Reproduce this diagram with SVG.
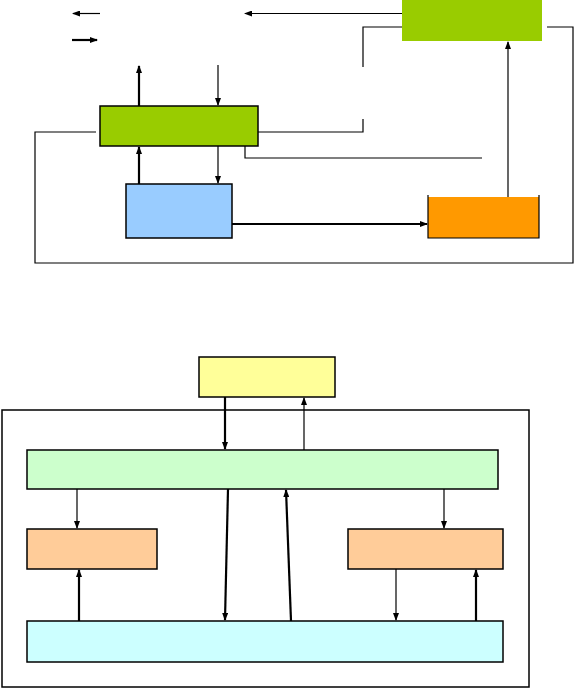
<svg xmlns="http://www.w3.org/2000/svg" width="575" height="688" viewBox="0 0 575 688">
<style>
.c{fill:none;stroke:#000;stroke-width:1.2}
.t{fill:none;stroke:#000;stroke-width:2.2}
.b{stroke:#000;stroke-width:1.5}
</style>
<defs>
<marker id="a" markerUnits="userSpaceOnUse" markerWidth="8" markerHeight="6" refX="7" refY="3" orient="auto"><path d="M0,0 L8,3 L0,6 Z" fill="#000"/></marker>
</defs>
<rect width="575" height="688" fill="#fff"/>
<g id="frame-bottom"><rect x="2" y="410" width="527" height="277" fill="none" stroke="#000" stroke-width="1.5"/></g>
<g id="green1"><rect x="100" y="106" width="158" height="40" fill="#99cc00" class="b"/></g>
<g id="green2"><rect x="402" y="0" width="140" height="41" fill="#99cc00"/></g>
<g id="blue"><rect x="126" y="184" width="106" height="54" fill="#99ccff" class="b"/></g>
<g id="orange"><rect x="428" y="197" width="111" height="41" fill="#ff9900"/><path d="M428,195 V238 H539 V195" class="c"/></g>
<g id="yellow"><rect x="199" y="357" width="136" height="40" fill="#ffff99" class="b"/></g>
<g id="lightgreen"><rect x="27" y="450" width="471" height="39" fill="#ccffcc" class="b"/></g>
<g id="peach-left"><rect x="27" y="529" width="130" height="40" fill="#ffcc99" class="b"/></g>
<g id="peach-right"><rect x="348" y="529" width="155" height="40" fill="#ffcc99" class="b"/></g>
<g id="cyan"><rect x="27" y="621" width="476" height="41" fill="#ccffff" class="b"/></g>
<g id="connectors">
<path d="M100,13.5 H73" class="c" marker-end="url(#a)"/>
<path d="M72,40 H97" class="t" marker-end="url(#a)"/>
<path d="M402,13.5 H245" class="c" marker-end="url(#a)"/>
<path d="M139,106 V66" class="t" marker-end="url(#a)"/>
<path d="M218,65 V105" class="c" marker-end="url(#a)"/>
<path d="M96,132 H35 V263 H573 V27 H547" class="c"/>
<path d="M139,184 V147" class="t" marker-end="url(#a)"/>
<path d="M218,146 V183" class="c" marker-end="url(#a)"/>
<path d="M232,224 H427" class="t" marker-end="url(#a)"/>
<path d="M508,197 V42" class="c" marker-end="url(#a)"/>
<path d="M402,27 H363 V67" class="c"/>
<path d="M363,119 V132 H258" class="c"/>
<path d="M245,146 V158 H482" class="c"/>
<path d="M225,397 V449" class="t" marker-end="url(#a)"/>
<path d="M304,450 V398" class="c" marker-end="url(#a)"/>
<path d="M77,489 V528" class="c" marker-end="url(#a)"/>
<path d="M444,489 V528" class="c" marker-end="url(#a)"/>
<path d="M79,621 V570" class="t" marker-end="url(#a)"/>
<path d="M228,489 L225,620" class="t" marker-end="url(#a)"/>
<path d="M291,621 L286,490" class="t" marker-end="url(#a)"/>
<path d="M396,569 V620" class="c" marker-end="url(#a)"/>
<path d="M476,621 V570" class="t" marker-end="url(#a)"/>
</g>
</svg>
